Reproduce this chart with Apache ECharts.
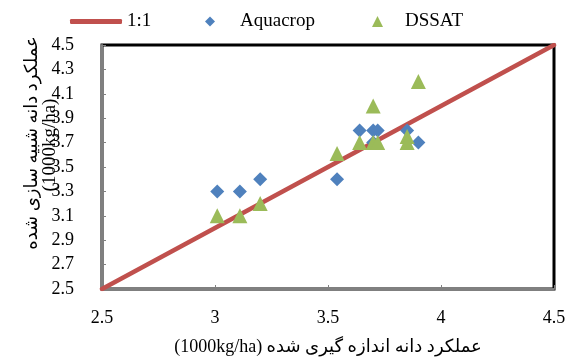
<!DOCTYPE html>
<html>
<head>
<meta charset="utf-8">
<script src="https://cdn.jsdelivr.net/npm/echarts@6/dist/echarts.min.js"></script>
<style>
  html, body { margin: 0; padding: 0; background: #fff; }
  #chart { width: 573px; height: 361px; }
</style>
</head>
<body>
<div id="chart"></div>
<script>
// measured (x) vs simulated (y) yield, 1000 kg/ha
var aquaMeasured = [3.01, 3.11, 3.2, 3.54, 3.64, 3.7, 3.72, 3.85, 3.9, 3.7]
var aquaSimulated = [3.3, 3.3, 3.4, 3.4, 3.8, 3.8, 3.8, 3.8, 3.7, 3.7]
var dssatMeasured = [3.01, 3.11, 3.2, 3.54, 3.64, 3.7, 3.7, 3.72, 3.85, 3.85, 3.9]
var dssatSimulated = [3.1, 3.1, 3.2, 3.61, 3.7, 4.0, 3.7, 3.7, 3.75, 3.7, 4.2]
var oneToOne = [2.5, 4.5]

var font = "'Liberation Serif', 'Times New Roman', 'DejaVu Sans', serif"

function pairs(xs, ys) {
  return xs.map(function (x, i) { return [x, ys[i]] })
}

var legendText = { fontFamily: font, fontSize: 19, color: '#000' }

var chart = echarts.init(document.getElementById('chart'))
var option = {
  animation: false,
  backgroundColor: '#fff',
  textStyle: { fontFamily: font, color: '#000' },
  grid: {
    left: 102,
    right: 19,
    top: 45,
    bottom: 71,
    show: true,
    borderColor: '#000',
    borderWidth: 3
  },
  legend: [
    {
      data: [{ name: '1:1', icon: 'roundRect' }],
      left: 70,
      top: 12,
      padding: 0,
      itemWidth: 52,
      itemHeight: 5,
      textStyle: legendText
    },
    {
      data: [{ name: 'Aquacrop', icon: 'diamond' }],
      left: 205,
      top: 12,
      padding: 0,
      itemWidth: 10,
      itemHeight: 10,
      textStyle: Object.assign({ padding: [0, 0, 0, 20] }, legendText)
    },
    {
      data: [{ name: 'DSSAT', icon: 'triangle' }],
      left: 372,
      top: 12,
      padding: 0,
      itemWidth: 11,
      itemHeight: 11,
      textStyle: Object.assign({ padding: [0, 0, 0, 17] }, legendText)
    }
  ],
  xAxis: {
    type: 'value',
    min: 2.5,
    max: 4.5,
    interval: 0.5,
    name: '(1000kg/ha) عملکرد دانه اندازه گیری شده',
    nameLocation: 'middle',
    nameGap: 49,
    nameTextStyle: { fontFamily: font, fontSize: 18, color: '#000' },
    axisLine: { show: true, lineStyle: { color: '#808080', width: 2 } },
    axisTick: { show: true, inside: true, length: 4, lineStyle: { color: '#808080' } },
    axisLabel: { fontFamily: font, fontSize: 18, color: '#000', margin: 20 },
    splitLine: { show: false }
  },
  yAxis: {
    type: 'value',
    min: 2.5,
    max: 4.5,
    interval: 0.2,
    axisLine: { show: true, lineStyle: { color: '#808080', width: 2 } },
    axisTick: { show: true, inside: true, length: 4, lineStyle: { color: '#808080' } },
    axisLabel: {
      fontFamily: font,
      fontSize: 18,
      color: '#000',
      margin: 28,
      formatter: function (v) { return v.toFixed(1) }
    },
    splitLine: { show: false }
  },
  graphic: [
    {
      type: 'text',
      x: 32,
      y: 143,
      rotation: Math.PI / 2,
      style: {
        text: 'عملکرد دانه شبیه سازی شده',
        fontFamily: font,
        fontSize: 18,
        fill: '#000',
        align: 'center',
        verticalAlign: 'middle'
      }
    },
    {
      type: 'text',
      x: 50,
      y: 145,
      rotation: Math.PI / 2,
      style: {
        text: '(1000kg/ha)',
        fontFamily: font,
        fontSize: 19,
        fill: '#000',
        align: 'center',
        verticalAlign: 'middle'
      }
    }
  ],
  series: [
    {
      name: '1:1',
      type: 'line',
      data: pairs(oneToOne, oneToOne),
      symbol: 'none',
      color: '#C0504D',
      lineStyle: { color: '#C0504D', width: 4.5, cap: 'round' },
      z: 1
    },
    {
      name: 'Aquacrop',
      type: 'scatter',
      data: pairs(aquaMeasured, aquaSimulated),
      symbol: 'diamond',
      symbolSize: 14,
      itemStyle: { color: '#4F81BD', opacity: 1 },
      z: 2
    },
    {
      name: 'DSSAT',
      type: 'scatter',
      data: pairs(dssatMeasured, dssatSimulated),
      symbol: 'triangle',
      symbolSize: [15, 15],
      itemStyle: { color: '#9BBB59', opacity: 1 },
      z: 3
    }
  ]
}
chart.setOption(option, true)
</script>
</body>
</html>
